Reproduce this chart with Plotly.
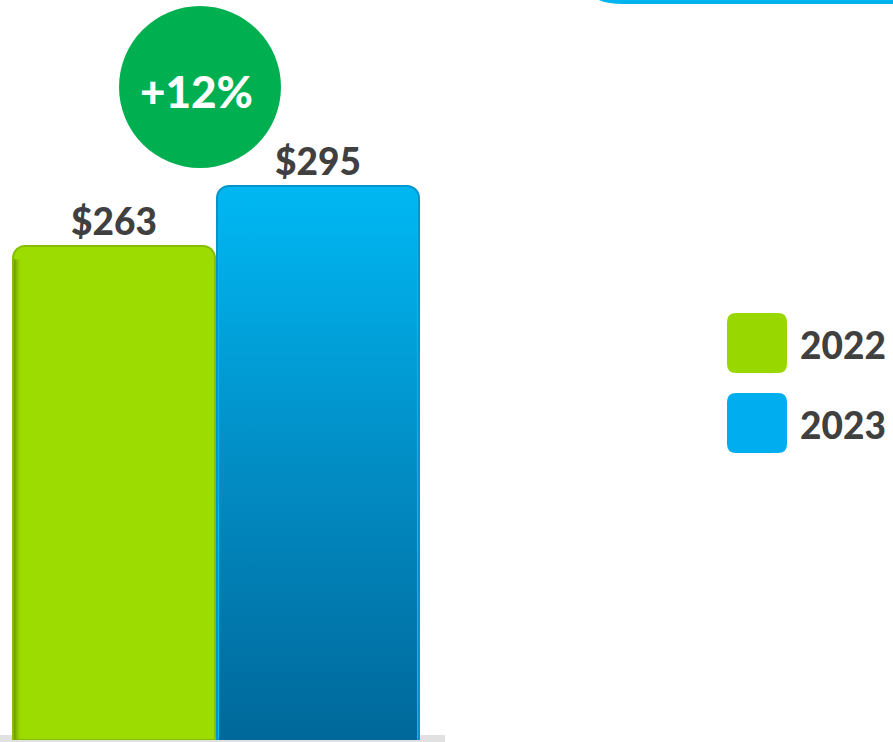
import plotly.graph_objects as go

# Data
years = ["2022", "2023"]
values = [263, 295]
bar_colors = ["#9ddc00", "#00b6f1"]
legend_colors = ["#99d700", "#00aeef"]

W, H = 893, 742
PLOT_H = 740  # plot area height (bottom margin 2px)


def px_x(p):
    return p / W


def px_y(p):
    return 1 - p / PLOT_H


def rounded_rect(x0, y0, x1, y1, r):
    # rounded rectangle path in paper coords, input in pixels
    pts = [
        f"M {px_x(x0 + r)},{px_y(y0)}",
        f"L {px_x(x1 - r)},{px_y(y0)}",
        f"Q {px_x(x1)},{px_y(y0)} {px_x(x1)},{px_y(y0 + r)}",
        f"L {px_x(x1)},{px_y(y1 - r)}",
        f"Q {px_x(x1)},{px_y(y1)} {px_x(x1 - r)},{px_y(y1)}",
        f"L {px_x(x0 + r)},{px_y(y1)}",
        f"Q {px_x(x0)},{px_y(y1)} {px_x(x0)},{px_y(y1 - r)}",
        f"L {px_x(x0)},{px_y(y0 + r)}",
        f"Q {px_x(x0)},{px_y(y0)} {px_x(x0 + r)},{px_y(y0)} Z",
    ]
    return " ".join(pts)


growth = round((values[1] - values[0]) / values[0] * 100)
xs = list(range(len(years)))
FONT = "Lato"

fig = go.Figure()

fig.add_trace(go.Bar(
    x=xs,
    y=values,
    width=0.99,
    marker=dict(color=bar_colors, cornerradius=12,
                line=dict(color=["#86bd00", "#0096cc"], width=2)),
    text=[f"${v}" for v in values],
    textposition="outside",
    textfont=dict(family=FONT, size=37, color="#404040", weight=900),
    cliponaxis=False,
    hoverinfo="skip",
    showlegend=False,
))

# darker lower part of the blue bar
fig.add_trace(go.Scatter(
    x=[xs[1] - 0.485, xs[1] + 0.485],
    y=[values[1] - 8, values[1] - 8],
    mode="none",
    fill="tozeroy",
    fillgradient=dict(type="vertical",
                      colorscale=[[0, "#00689a"], [0.55, "#0290c8"], [1, "#00b6f1"]]),
    hoverinfo="skip",
    showlegend=False,
))

# shaded left edge of the green bar
fig.add_trace(go.Scatter(
    x=[xs[0] - 0.49, xs[0] - 0.45],
    y=[values[0] - 7, values[0] - 7],
    mode="none",
    fill="tozeroy",
    fillgradient=dict(type="horizontal",
                      colorscale=[[0, "rgba(104,140,0,0.9)"], [1, "rgba(157,220,0,0)"]]),
    hoverinfo="skip",
    showlegend=False,
))

shapes = []
annotations = []

# growth circle
cx, cy, r = 200, 87, 81
shapes.append(dict(type="circle", xref="paper", yref="paper",
                   x0=px_x(cx - r), x1=px_x(cx + r), y0=px_y(cy + r), y1=px_y(cy - r),
                   fillcolor="#00b050", line=dict(width=0), layer="above"))
annotations.append(dict(xref="paper", yref="paper", x=px_x(cx - 4), y=px_y(cy + 4),
                        xanchor="center", yanchor="middle",
                        text=f"+{growth}%", showarrow=False,
                        font=dict(family=FONT, size=44, color="white", weight=900)))

# legend
for i, (yr, c) in enumerate(zip(years, legend_colors)):
    top = 313 + i * 80
    shapes.append(dict(type="path", xref="paper", yref="paper",
                       path=rounded_rect(727, top, 787, top + 60, 9),
                       fillcolor=c, line=dict(width=0), layer="above"))
    annotations.append(dict(xref="paper", yref="paper", x=px_x(798), y=px_y(top + 31),
                            xanchor="left", yanchor="middle", text=yr, showarrow=False,
                            font=dict(family=FONT, size=37, color="#404040", weight=900)))

# partial banner at top right
shapes.append(dict(type="path", xref="paper", yref="paper",
                   path=(f"M {px_x(595)},{px_y(-2)} Q {px_x(604)},{px_y(4)} {px_x(624)},{px_y(4)} "
                         f"L {px_x(895)},{px_y(4)} L {px_x(895)},{px_y(-2)} Z"),
                   fillcolor="#00b4f0", line=dict(width=0)))

# soft floor shadow
shapes.append(dict(type="rect", xref="paper", yref="paper",
                   x0=px_x(0), x1=px_x(445), y0=px_y(742), y1=px_y(735),
                   fillcolor="rgba(120,120,120,0.22)", line=dict(width=0), layer="below"))

fig.update_layout(
    width=W, height=H,
    margin=dict(l=0, r=0, t=0, b=2),
    paper_bgcolor="white",
    plot_bgcolor="white",
    bargap=0,
    shapes=shapes,
    annotations=annotations,
    xaxis=dict(domain=[px_x(12), px_x(420)], range=[-0.5, 1.5], visible=False, fixedrange=True),
    yaxis=dict(range=[0, 394], visible=False, fixedrange=True),
    showlegend=False,
)

fig.write_html("out.html", config={"displayModeBar": False},
               post_script="document.body.style.margin='0px';")
